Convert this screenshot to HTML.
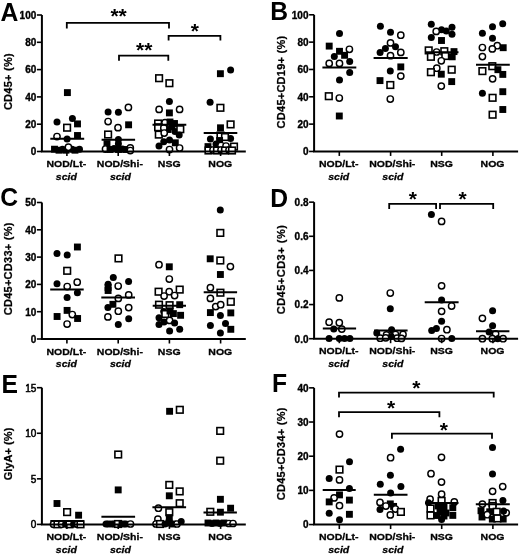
<!DOCTYPE html>
<html><head><meta charset="utf-8"><style>
html,body{margin:0;padding:0;background:#fff;}
svg{display:block;filter:blur(0.35px);}
text{font-family:"Liberation Sans", sans-serif;fill:#000;}
</style></head><body>
<svg width="520" height="555" viewBox="0 0 520 555">
<rect width="520" height="555" fill="#fff"/>
<rect x="63.95" y="89.15" width="6.9" height="6.9" fill="#000"/>
<circle cx="57" cy="121.9" r="3.5" fill="#000"/>
<circle cx="72.4" cy="118.5" r="3.5" fill="#000"/>
<rect x="74.05" y="120.45" width="6.9" height="6.9" fill="#000"/>
<rect x="63.80" y="124.40" width="6.6" height="6.6" fill="#fff" stroke="#000" stroke-width="1.6"/>
<circle cx="57" cy="136.5" r="3.15" fill="#fff" stroke="#000" stroke-width="1.45"/>
<circle cx="67.1" cy="139" r="3.5" fill="#000"/>
<rect x="74.05" y="132.05" width="6.9" height="6.9" fill="#000"/>
<rect x="51.05" y="145.75" width="6.9" height="6.9" fill="#000"/>
<rect x="55.55" y="146.75" width="6.9" height="6.9" fill="#000"/>
<circle cx="62.5" cy="149.2" r="3.5" fill="#000"/>
<rect x="62.55" y="146.75" width="6.9" height="6.9" fill="#000"/>
<circle cx="72" cy="149.2" r="3.5" fill="#000"/>
<rect x="71.55" y="146.75" width="6.9" height="6.9" fill="#000"/>
<circle cx="79.5" cy="149.2" r="3.5" fill="#000"/>
<circle cx="68.4" cy="147.2" r="3.15" fill="#fff" stroke="#000" stroke-width="1.45"/>
<circle cx="128.4" cy="107.4" r="3.15" fill="#fff" stroke="#000" stroke-width="1.45"/>
<circle cx="108.1" cy="112.1" r="3.5" fill="#000"/>
<circle cx="118.4" cy="112.3" r="3.5" fill="#000"/>
<circle cx="108.1" cy="121.5" r="3.15" fill="#fff" stroke="#000" stroke-width="1.45"/>
<rect x="125.15" y="121.35" width="6.9" height="6.9" fill="#000"/>
<circle cx="118" cy="127.7" r="3.15" fill="#fff" stroke="#000" stroke-width="1.45"/>
<rect x="104.80" y="131.20" width="6.6" height="6.6" fill="#fff" stroke="#000" stroke-width="1.6"/>
<circle cx="118.4" cy="139.4" r="3.5" fill="#000"/>
<rect x="103.55" y="140.25" width="6.9" height="6.9" fill="#000"/>
<circle cx="118.4" cy="143.7" r="3.5" fill="#000"/>
<circle cx="105.5" cy="149" r="3.15" fill="#fff" stroke="#000" stroke-width="1.45"/>
<rect x="106.55" y="146.05" width="6.9" height="6.9" fill="#000"/>
<circle cx="114" cy="148.5" r="3.5" fill="#000"/>
<rect x="115.05" y="146.05" width="6.9" height="6.9" fill="#000"/>
<circle cx="122.5" cy="149" r="3.5" fill="#000"/>
<rect x="122.55" y="146.05" width="6.9" height="6.9" fill="#000"/>
<circle cx="130.3" cy="147.9" r="3.15" fill="#fff" stroke="#000" stroke-width="1.45"/>
<circle cx="130.3" cy="150.5" r="3.15" fill="#fff" stroke="#000" stroke-width="1.45"/>
<rect x="155.80" y="74.90" width="6.6" height="6.6" fill="#fff" stroke="#000" stroke-width="1.6"/>
<rect x="166.10" y="79.90" width="6.6" height="6.6" fill="#fff" stroke="#000" stroke-width="1.6"/>
<circle cx="169.4" cy="101.6" r="3.5" fill="#000"/>
<circle cx="159.1" cy="109.4" r="3.15" fill="#fff" stroke="#000" stroke-width="1.45"/>
<circle cx="179.6" cy="109.4" r="3.15" fill="#fff" stroke="#000" stroke-width="1.45"/>
<rect x="165.95" y="109.45" width="6.9" height="6.9" fill="#000"/>
<rect x="154.80" y="120.20" width="6.6" height="6.6" fill="#fff" stroke="#000" stroke-width="1.6"/>
<rect x="154.80" y="124.00" width="6.6" height="6.6" fill="#fff" stroke="#000" stroke-width="1.6"/>
<circle cx="165" cy="122.7" r="3.15" fill="#fff" stroke="#000" stroke-width="1.45"/>
<rect x="166.55" y="118.55" width="6.9" height="6.9" fill="#000"/>
<rect x="171.05" y="120.05" width="6.9" height="6.9" fill="#000"/>
<circle cx="172" cy="127" r="3.5" fill="#000"/>
<rect x="164.55" y="126.05" width="6.9" height="6.9" fill="#000"/>
<circle cx="175" cy="131.5" r="3.5" fill="#000"/>
<circle cx="163.8" cy="128" r="3.15" fill="#fff" stroke="#000" stroke-width="1.45"/>
<rect x="177.00" y="125.90" width="6.6" height="6.6" fill="#fff" stroke="#000" stroke-width="1.6"/>
<rect x="155.50" y="131.30" width="6.6" height="6.6" fill="#fff" stroke="#000" stroke-width="1.6"/>
<circle cx="164.2" cy="133" r="3.15" fill="#fff" stroke="#000" stroke-width="1.45"/>
<circle cx="179.2" cy="135" r="3.5" fill="#000"/>
<circle cx="169.5" cy="139.9" r="3.5" fill="#000"/>
<circle cx="163.75" cy="141.8" r="3.5" fill="#000"/>
<rect x="171.85" y="139.35" width="6.9" height="6.9" fill="#000"/>
<circle cx="159" cy="146.1" r="3.5" fill="#000"/>
<circle cx="169.5" cy="149.5" r="3.15" fill="#fff" stroke="#000" stroke-width="1.45"/>
<circle cx="179.6" cy="148" r="3.15" fill="#fff" stroke="#000" stroke-width="1.45"/>
<rect x="216.95" y="70.25" width="6.9" height="6.9" fill="#000"/>
<circle cx="230.6" cy="70" r="3.5" fill="#000"/>
<circle cx="210.1" cy="102.2" r="3.5" fill="#000"/>
<rect x="217.10" y="104.50" width="6.6" height="6.6" fill="#fff" stroke="#000" stroke-width="1.6"/>
<rect x="227.30" y="121.10" width="6.6" height="6.6" fill="#fff" stroke="#000" stroke-width="1.6"/>
<rect x="217.05" y="124.35" width="6.9" height="6.9" fill="#000"/>
<circle cx="210.4" cy="139" r="3.5" fill="#000"/>
<circle cx="230.6" cy="138.5" r="3.5" fill="#000"/>
<rect x="217.20" y="132.20" width="6.6" height="6.6" fill="#fff" stroke="#000" stroke-width="1.6"/>
<rect x="221.70" y="133.70" width="6.6" height="6.6" fill="#fff" stroke="#000" stroke-width="1.6"/>
<rect x="216.15" y="137.05" width="6.9" height="6.9" fill="#000"/>
<circle cx="216" cy="144" r="3.5" fill="#000"/>
<circle cx="221" cy="145.5" r="3.15" fill="#fff" stroke="#000" stroke-width="1.45"/>
<circle cx="226" cy="146" r="3.15" fill="#fff" stroke="#000" stroke-width="1.45"/>
<rect x="204.55" y="143.15" width="6.9" height="6.9" fill="#000"/>
<rect x="230.70" y="143.30" width="6.6" height="6.6" fill="#fff" stroke="#000" stroke-width="1.6"/>
<rect x="205.20" y="147.20" width="6.6" height="6.6" fill="#fff" stroke="#000" stroke-width="1.6"/>
<circle cx="213" cy="150" r="3.15" fill="#fff" stroke="#000" stroke-width="1.45"/>
<rect x="213.70" y="147.20" width="6.6" height="6.6" fill="#fff" stroke="#000" stroke-width="1.6"/>
<circle cx="221" cy="150" r="3.15" fill="#fff" stroke="#000" stroke-width="1.45"/>
<rect x="221.70" y="147.20" width="6.6" height="6.6" fill="#fff" stroke="#000" stroke-width="1.6"/>
<circle cx="229" cy="150" r="3.15" fill="#fff" stroke="#000" stroke-width="1.45"/>
<rect x="228.70" y="147.20" width="6.6" height="6.6" fill="#fff" stroke="#000" stroke-width="1.6"/>
<line x1="50.3" y1="138.8" x2="84.2" y2="138.8" stroke="#000" stroke-width="2"/>
<line x1="101.6" y1="139.8" x2="135.1" y2="139.8" stroke="#000" stroke-width="2"/>
<line x1="152.5" y1="124.8" x2="186.3" y2="124.8" stroke="#000" stroke-width="2"/>
<line x1="203.7" y1="133.1" x2="237.3" y2="133.1" stroke="#000" stroke-width="2"/>
<line x1="41.9" y1="15.0" x2="41.9" y2="151.5" stroke="#000" stroke-width="2"/>
<line x1="40.9" y1="151.5" x2="245.8" y2="151.5" stroke="#000" stroke-width="2"/>
<line x1="36.9" y1="15.0" x2="41.9" y2="15.0" stroke="#000" stroke-width="1.6"/>
<text x="36.30" y="18.80" font-size="10" text-anchor="end" font-weight="bold" font-style="normal" stroke="#000" stroke-width="0.35">100</text>
<line x1="36.9" y1="42.3" x2="41.9" y2="42.3" stroke="#000" stroke-width="1.6"/>
<text x="36.30" y="46.10" font-size="10" text-anchor="end" font-weight="bold" font-style="normal" stroke="#000" stroke-width="0.35">80</text>
<line x1="36.9" y1="69.6" x2="41.9" y2="69.6" stroke="#000" stroke-width="1.6"/>
<text x="36.30" y="73.40" font-size="10" text-anchor="end" font-weight="bold" font-style="normal" stroke="#000" stroke-width="0.35">60</text>
<line x1="36.9" y1="96.9" x2="41.9" y2="96.9" stroke="#000" stroke-width="1.6"/>
<text x="36.30" y="100.70" font-size="10" text-anchor="end" font-weight="bold" font-style="normal" stroke="#000" stroke-width="0.35">40</text>
<line x1="36.9" y1="124.2" x2="41.9" y2="124.2" stroke="#000" stroke-width="1.6"/>
<text x="36.30" y="128.00" font-size="10" text-anchor="end" font-weight="bold" font-style="normal" stroke="#000" stroke-width="0.35">20</text>
<line x1="36.9" y1="151.5" x2="41.9" y2="151.5" stroke="#000" stroke-width="1.6"/>
<text x="36.30" y="155.30" font-size="10" text-anchor="end" font-weight="bold" font-style="normal" stroke="#000" stroke-width="0.35">0</text>
<line x1="66.9" y1="151.5" x2="66.9" y2="156.0" stroke="#000" stroke-width="1.6"/>
<line x1="118.2" y1="151.5" x2="118.2" y2="156.0" stroke="#000" stroke-width="1.6"/>
<line x1="169.4" y1="151.5" x2="169.4" y2="156.0" stroke="#000" stroke-width="1.6"/>
<line x1="220.6" y1="151.5" x2="220.6" y2="156.0" stroke="#000" stroke-width="1.6"/>
<text transform="translate(0.50,21.30) scale(0.95,1)" font-size="26" text-anchor="start" font-weight="bold" font-style="normal" >A</text>
<text x="0" y="0" font-size="11" letter-spacing="0.25" text-anchor="middle" font-weight="bold" stroke="#000" stroke-width="0.25" transform="translate(11.8,81.6) rotate(-90)">CD45+ (%)</text>
<text transform="translate(66.35,167.10) scale(1.03,0.94)" font-size="10.2" text-anchor="middle" font-weight="bold" font-style="normal" stroke="#000" stroke-width="0.3">NOD/Lt-</text>
<text transform="translate(66.30,179.60) scale(1.03,0.94)" font-size="10.2" text-anchor="middle" font-weight="bold" font-style="italic" stroke="#000" stroke-width="0.3">scid</text>
<text transform="translate(119.90,167.10) scale(1.03,0.94)" font-size="10.2" text-anchor="middle" font-weight="bold" font-style="normal" stroke="#000" stroke-width="0.3">NOD/Shi-</text>
<text transform="translate(120.40,179.60) scale(1.03,0.94)" font-size="10.2" text-anchor="middle" font-weight="bold" font-style="italic" stroke="#000" stroke-width="0.3">scid</text>
<text transform="translate(169.25,167.10) scale(1.03,0.94)" font-size="10.2" text-anchor="middle" font-weight="bold" font-style="normal" stroke="#000" stroke-width="0.3">NSG</text>
<text transform="translate(220.25,167.10) scale(1.03,0.94)" font-size="10.2" text-anchor="middle" font-weight="bold" font-style="normal" stroke="#000" stroke-width="0.3">NOG</text>
<path d="M66.8 28.5 V22.9 H169 V28.5" fill="none" stroke="#000" stroke-width="1.8"/>
<text x="118.60" y="23.40" font-size="21" text-anchor="middle" font-weight="bold" font-style="normal" >**</text>
<path d="M119 60.8 V55.7 H168.3 V60.8" fill="none" stroke="#000" stroke-width="1.8"/>
<text x="144.20" y="57.10" font-size="21" text-anchor="middle" font-weight="bold" font-style="normal" >**</text>
<path d="M168.6 40.6 V35.8 H220.4 V40.6" fill="none" stroke="#000" stroke-width="1.8"/>
<text x="194.85" y="37.55" font-size="21" text-anchor="middle" font-weight="bold" font-style="normal" >*</text>
<circle cx="339.5" cy="33.4" r="3.5" fill="#000"/>
<rect x="325.75" y="42.65" width="6.9" height="6.9" fill="#000"/>
<rect x="336.05" y="47.85" width="6.9" height="6.9" fill="#000"/>
<circle cx="349.4" cy="49.3" r="3.15" fill="#fff" stroke="#000" stroke-width="1.45"/>
<circle cx="334.3" cy="56.4" r="3.5" fill="#000"/>
<rect x="341.15" y="51.85" width="6.9" height="6.9" fill="#000"/>
<circle cx="329.2" cy="63.4" r="3.15" fill="#fff" stroke="#000" stroke-width="1.45"/>
<circle cx="339.5" cy="63.4" r="3.15" fill="#fff" stroke="#000" stroke-width="1.45"/>
<circle cx="349.7" cy="61.4" r="3.5" fill="#000"/>
<circle cx="349.7" cy="72.6" r="3.5" fill="#000"/>
<circle cx="339.5" cy="79.9" r="3.5" fill="#000"/>
<rect x="325.50" y="92.90" width="6.6" height="6.6" fill="#fff" stroke="#000" stroke-width="1.6"/>
<circle cx="339.3" cy="98" r="3.15" fill="#fff" stroke="#000" stroke-width="1.45"/>
<rect x="335.85" y="112.55" width="6.9" height="6.9" fill="#000"/>
<circle cx="380.4" cy="26.3" r="3.5" fill="#000"/>
<circle cx="390.5" cy="32.3" r="3.5" fill="#000"/>
<circle cx="400.8" cy="35.2" r="3.15" fill="#fff" stroke="#000" stroke-width="1.45"/>
<circle cx="390.5" cy="42.9" r="3.15" fill="#fff" stroke="#000" stroke-width="1.45"/>
<circle cx="385.4" cy="48.4" r="3.5" fill="#000"/>
<circle cx="395.5" cy="46.8" r="3.5" fill="#000"/>
<circle cx="380.1" cy="52.4" r="3.5" fill="#000"/>
<circle cx="400.8" cy="52.4" r="3.15" fill="#fff" stroke="#000" stroke-width="1.45"/>
<circle cx="390.5" cy="55.7" r="3.15" fill="#fff" stroke="#000" stroke-width="1.45"/>
<rect x="397.35" y="63.45" width="6.9" height="6.9" fill="#000"/>
<circle cx="390.3" cy="70.9" r="3.5" fill="#000"/>
<circle cx="400.8" cy="76.1" r="3.15" fill="#fff" stroke="#000" stroke-width="1.45"/>
<rect x="376.55" y="77.15" width="6.9" height="6.9" fill="#000"/>
<rect x="387.00" y="81.70" width="6.6" height="6.6" fill="#fff" stroke="#000" stroke-width="1.6"/>
<circle cx="390.3" cy="99" r="3.15" fill="#fff" stroke="#000" stroke-width="1.45"/>
<circle cx="431.3" cy="24.3" r="3.5" fill="#000"/>
<circle cx="441.5" cy="29.8" r="3.5" fill="#000"/>
<circle cx="446.3" cy="31" r="3.5" fill="#000"/>
<circle cx="452" cy="27.3" r="3.5" fill="#000"/>
<circle cx="452" cy="34.2" r="3.5" fill="#000"/>
<circle cx="436.2" cy="31.4" r="3.15" fill="#fff" stroke="#000" stroke-width="1.45"/>
<circle cx="431.3" cy="37.5" r="3.5" fill="#000"/>
<rect x="438.05" y="37.05" width="6.9" height="6.9" fill="#000"/>
<rect x="425.40" y="47.10" width="6.6" height="6.6" fill="#fff" stroke="#000" stroke-width="1.6"/>
<circle cx="436.6" cy="52" r="3.15" fill="#fff" stroke="#000" stroke-width="1.45"/>
<rect x="441.00" y="47.90" width="6.6" height="6.6" fill="#fff" stroke="#000" stroke-width="1.6"/>
<rect x="450.55" y="48.15" width="6.9" height="6.9" fill="#000"/>
<rect x="427.60" y="53.50" width="6.6" height="6.6" fill="#fff" stroke="#000" stroke-width="1.6"/>
<rect x="442.00" y="52.70" width="6.6" height="6.6" fill="#fff" stroke="#000" stroke-width="1.6"/>
<rect x="448.75" y="53.35" width="6.9" height="6.9" fill="#000"/>
<circle cx="441.3" cy="60.8" r="3.15" fill="#fff" stroke="#000" stroke-width="1.45"/>
<circle cx="436.8" cy="68.2" r="3.15" fill="#fff" stroke="#000" stroke-width="1.45"/>
<rect x="427.60" y="68.90" width="6.6" height="6.6" fill="#fff" stroke="#000" stroke-width="1.6"/>
<rect x="437.85" y="70.75" width="6.9" height="6.9" fill="#000"/>
<rect x="448.40" y="66.40" width="6.6" height="6.6" fill="#fff" stroke="#000" stroke-width="1.6"/>
<rect x="448.25" y="78.15" width="6.9" height="6.9" fill="#000"/>
<circle cx="441.3" cy="86.1" r="3.15" fill="#fff" stroke="#000" stroke-width="1.45"/>
<circle cx="502.7" cy="23.7" r="3.5" fill="#000"/>
<circle cx="492.5" cy="26.7" r="3.5" fill="#000"/>
<circle cx="482.4" cy="33.3" r="3.5" fill="#000"/>
<circle cx="492.5" cy="38.3" r="3.5" fill="#000"/>
<circle cx="482.4" cy="47.5" r="3.15" fill="#fff" stroke="#000" stroke-width="1.45"/>
<circle cx="497.3" cy="45.7" r="3.15" fill="#fff" stroke="#000" stroke-width="1.45"/>
<circle cx="492.3" cy="48.9" r="3.15" fill="#fff" stroke="#000" stroke-width="1.45"/>
<rect x="499.75" y="44.25" width="6.9" height="6.9" fill="#000"/>
<circle cx="482.4" cy="56.6" r="3.15" fill="#fff" stroke="#000" stroke-width="1.45"/>
<rect x="489.00" y="62.90" width="6.6" height="6.6" fill="#fff" stroke="#000" stroke-width="1.6"/>
<rect x="494.45" y="66.25" width="6.9" height="6.9" fill="#000"/>
<rect x="479.10" y="67.80" width="6.6" height="6.6" fill="#fff" stroke="#000" stroke-width="1.6"/>
<rect x="499.35" y="70.95" width="6.9" height="6.9" fill="#000"/>
<circle cx="492.6" cy="78.8" r="3.15" fill="#fff" stroke="#000" stroke-width="1.45"/>
<circle cx="482.4" cy="93.3" r="3.5" fill="#000"/>
<rect x="499.35" y="88.25" width="6.9" height="6.9" fill="#000"/>
<rect x="489.30" y="94.50" width="6.6" height="6.6" fill="#fff" stroke="#000" stroke-width="1.6"/>
<rect x="499.35" y="106.05" width="6.9" height="6.9" fill="#000"/>
<rect x="489.30" y="111.40" width="6.6" height="6.6" fill="#fff" stroke="#000" stroke-width="1.6"/>
<line x1="322.4" y1="67.5" x2="356.3" y2="67.5" stroke="#000" stroke-width="2"/>
<line x1="373.6" y1="58" x2="407.7" y2="58" stroke="#000" stroke-width="2"/>
<line x1="425" y1="52.3" x2="458.5" y2="52.3" stroke="#000" stroke-width="2"/>
<line x1="476" y1="64.8" x2="509.8" y2="64.8" stroke="#000" stroke-width="2"/>
<line x1="314.1" y1="14.8" x2="314.1" y2="151.45" stroke="#000" stroke-width="2"/>
<line x1="313.1" y1="151.45" x2="518.1" y2="151.45" stroke="#000" stroke-width="2"/>
<line x1="309.1" y1="14.800000000000011" x2="314.1" y2="14.800000000000011" stroke="#000" stroke-width="1.6"/>
<text x="308.50" y="18.60" font-size="10" text-anchor="end" font-weight="bold" font-style="normal" stroke="#000" stroke-width="0.35">100</text>
<line x1="309.1" y1="42.13000000000001" x2="314.1" y2="42.13000000000001" stroke="#000" stroke-width="1.6"/>
<text x="308.50" y="45.93" font-size="10" text-anchor="end" font-weight="bold" font-style="normal" stroke="#000" stroke-width="0.35">80</text>
<line x1="309.1" y1="69.46000000000001" x2="314.1" y2="69.46000000000001" stroke="#000" stroke-width="1.6"/>
<text x="308.50" y="73.26" font-size="10" text-anchor="end" font-weight="bold" font-style="normal" stroke="#000" stroke-width="0.35">60</text>
<line x1="309.1" y1="96.78999999999999" x2="314.1" y2="96.78999999999999" stroke="#000" stroke-width="1.6"/>
<text x="308.50" y="100.59" font-size="10" text-anchor="end" font-weight="bold" font-style="normal" stroke="#000" stroke-width="0.35">40</text>
<line x1="309.1" y1="124.11999999999999" x2="314.1" y2="124.11999999999999" stroke="#000" stroke-width="1.6"/>
<text x="308.50" y="127.92" font-size="10" text-anchor="end" font-weight="bold" font-style="normal" stroke="#000" stroke-width="0.35">20</text>
<line x1="309.1" y1="151.45" x2="314.1" y2="151.45" stroke="#000" stroke-width="1.6"/>
<text x="308.50" y="155.25" font-size="10" text-anchor="end" font-weight="bold" font-style="normal" stroke="#000" stroke-width="0.35">0</text>
<line x1="339.3" y1="151.45" x2="339.3" y2="155.95" stroke="#000" stroke-width="1.6"/>
<line x1="390.6" y1="151.45" x2="390.6" y2="155.95" stroke="#000" stroke-width="1.6"/>
<line x1="441.7" y1="151.45" x2="441.7" y2="155.95" stroke="#000" stroke-width="1.6"/>
<line x1="492.9" y1="151.45" x2="492.9" y2="155.95" stroke="#000" stroke-width="1.6"/>
<text transform="translate(270.30,19.80) scale(0.95,1)" font-size="26" text-anchor="start" font-weight="bold" font-style="normal" >B</text>
<text x="0" y="0" font-size="11" letter-spacing="0.25" text-anchor="middle" font-weight="bold" stroke="#000" stroke-width="0.25" transform="translate(284.9,82) rotate(-90)">CD45+CD19+ (%)</text>
<text transform="translate(338.75,167.05) scale(1.03,0.94)" font-size="10.2" text-anchor="middle" font-weight="bold" font-style="normal" stroke="#000" stroke-width="0.3">NOD/Lt-</text>
<text transform="translate(338.70,179.55) scale(1.03,0.94)" font-size="10.2" text-anchor="middle" font-weight="bold" font-style="italic" stroke="#000" stroke-width="0.3">scid</text>
<text transform="translate(392.30,167.05) scale(1.03,0.94)" font-size="10.2" text-anchor="middle" font-weight="bold" font-style="normal" stroke="#000" stroke-width="0.3">NOD/Shi-</text>
<text transform="translate(392.80,179.55) scale(1.03,0.94)" font-size="10.2" text-anchor="middle" font-weight="bold" font-style="italic" stroke="#000" stroke-width="0.3">scid</text>
<text transform="translate(441.55,167.05) scale(1.03,0.94)" font-size="10.2" text-anchor="middle" font-weight="bold" font-style="normal" stroke="#000" stroke-width="0.3">NSG</text>
<text transform="translate(492.55,167.05) scale(1.03,0.94)" font-size="10.2" text-anchor="middle" font-weight="bold" font-style="normal" stroke="#000" stroke-width="0.3">NOG</text>
<rect x="73.95" y="243.55" width="6.9" height="6.9" fill="#000"/>
<circle cx="57" cy="253.5" r="3.5" fill="#000"/>
<circle cx="67.2" cy="255.1" r="3.5" fill="#000"/>
<rect x="63.90" y="267.50" width="6.6" height="6.6" fill="#fff" stroke="#000" stroke-width="1.6"/>
<circle cx="57" cy="283.8" r="3.5" fill="#000"/>
<circle cx="77.2" cy="282.2" r="3.15" fill="#fff" stroke="#000" stroke-width="1.45"/>
<circle cx="67.2" cy="286.5" r="3.15" fill="#fff" stroke="#000" stroke-width="1.45"/>
<circle cx="77.4" cy="292.8" r="3.5" fill="#000"/>
<circle cx="67.1" cy="297.5" r="3.5" fill="#000"/>
<rect x="63.65" y="306.95" width="6.9" height="6.9" fill="#000"/>
<circle cx="72.3" cy="314.5" r="3.15" fill="#fff" stroke="#000" stroke-width="1.45"/>
<rect x="53.65" y="313.05" width="6.9" height="6.9" fill="#000"/>
<rect x="74.15" y="315.05" width="6.9" height="6.9" fill="#000"/>
<circle cx="67.1" cy="324" r="3.15" fill="#fff" stroke="#000" stroke-width="1.45"/>
<rect x="115.20" y="255.10" width="6.6" height="6.6" fill="#fff" stroke="#000" stroke-width="1.6"/>
<circle cx="113.3" cy="277.5" r="3.5" fill="#000"/>
<circle cx="128.6" cy="281.4" r="3.5" fill="#000"/>
<rect x="104.65" y="287.05" width="6.9" height="6.9" fill="#000"/>
<rect x="104.65" y="284.05" width="6.9" height="6.9" fill="#000"/>
<circle cx="108.1" cy="284.2" r="3.5" fill="#000"/>
<circle cx="118.2" cy="286" r="3.15" fill="#fff" stroke="#000" stroke-width="1.45"/>
<circle cx="128.7" cy="294.9" r="3.15" fill="#fff" stroke="#000" stroke-width="1.45"/>
<circle cx="118.3" cy="298.4" r="3.15" fill="#fff" stroke="#000" stroke-width="1.45"/>
<rect x="109.45" y="300.85" width="6.9" height="6.9" fill="#000"/>
<circle cx="107.9" cy="307.6" r="3.5" fill="#000"/>
<circle cx="128.7" cy="307.6" r="3.15" fill="#fff" stroke="#000" stroke-width="1.45"/>
<circle cx="118.3" cy="311.2" r="3.15" fill="#fff" stroke="#000" stroke-width="1.45"/>
<circle cx="107.9" cy="316.9" r="3.15" fill="#fff" stroke="#000" stroke-width="1.45"/>
<circle cx="128.7" cy="318.7" r="3.5" fill="#000"/>
<circle cx="118.3" cy="324.6" r="3.5" fill="#000"/>
<circle cx="159" cy="264.7" r="3.15" fill="#fff" stroke="#000" stroke-width="1.45"/>
<rect x="165.85" y="263.35" width="6.9" height="6.9" fill="#000"/>
<circle cx="169.3" cy="279" r="3.15" fill="#fff" stroke="#000" stroke-width="1.45"/>
<rect x="155.30" y="288.40" width="6.6" height="6.6" fill="#fff" stroke="#000" stroke-width="1.6"/>
<circle cx="169.2" cy="291.7" r="3.15" fill="#fff" stroke="#000" stroke-width="1.45"/>
<rect x="176.40" y="286.30" width="6.6" height="6.6" fill="#fff" stroke="#000" stroke-width="1.6"/>
<circle cx="164.1" cy="296" r="3.15" fill="#fff" stroke="#000" stroke-width="1.45"/>
<circle cx="174.6" cy="295.5" r="3.15" fill="#fff" stroke="#000" stroke-width="1.45"/>
<rect x="155.70" y="301.40" width="6.6" height="6.6" fill="#fff" stroke="#000" stroke-width="1.6"/>
<rect x="166.30" y="301.90" width="6.6" height="6.6" fill="#fff" stroke="#000" stroke-width="1.6"/>
<rect x="176.25" y="301.25" width="6.9" height="6.9" fill="#000"/>
<circle cx="163.7" cy="311.5" r="3.5" fill="#000"/>
<rect x="169.95" y="310.15" width="6.9" height="6.9" fill="#000"/>
<rect x="177.15" y="311.85" width="6.9" height="6.9" fill="#000"/>
<rect x="162.00" y="310.70" width="6.6" height="6.6" fill="#fff" stroke="#000" stroke-width="1.6"/>
<rect x="166.55" y="307.55" width="6.9" height="6.9" fill="#000"/>
<circle cx="159" cy="317.8" r="3.5" fill="#000"/>
<circle cx="164" cy="322" r="3.5" fill="#000"/>
<circle cx="169.6" cy="320.4" r="3.15" fill="#fff" stroke="#000" stroke-width="1.45"/>
<circle cx="174.6" cy="322.9" r="3.5" fill="#000"/>
<circle cx="159" cy="324.6" r="3.5" fill="#000"/>
<circle cx="169.6" cy="331" r="3.5" fill="#000"/>
<circle cx="179.7" cy="329.3" r="3.5" fill="#000"/>
<circle cx="220.3" cy="210.1" r="3.5" fill="#000"/>
<rect x="217.00" y="229.60" width="6.6" height="6.6" fill="#fff" stroke="#000" stroke-width="1.6"/>
<rect x="206.75" y="255.35" width="6.9" height="6.9" fill="#000"/>
<rect x="217.00" y="257.20" width="6.6" height="6.6" fill="#fff" stroke="#000" stroke-width="1.6"/>
<circle cx="230.4" cy="266.6" r="3.15" fill="#fff" stroke="#000" stroke-width="1.45"/>
<rect x="216.95" y="271.05" width="6.9" height="6.9" fill="#000"/>
<circle cx="210.4" cy="287.7" r="3.15" fill="#fff" stroke="#000" stroke-width="1.45"/>
<rect x="217.10" y="289.40" width="6.6" height="6.6" fill="#fff" stroke="#000" stroke-width="1.6"/>
<circle cx="210.4" cy="298.4" r="3.15" fill="#fff" stroke="#000" stroke-width="1.45"/>
<rect x="227.50" y="298.50" width="6.6" height="6.6" fill="#fff" stroke="#000" stroke-width="1.6"/>
<circle cx="215.7" cy="306.6" r="3.15" fill="#fff" stroke="#000" stroke-width="1.45"/>
<circle cx="220.7" cy="304.7" r="3.15" fill="#fff" stroke="#000" stroke-width="1.45"/>
<rect x="206.95" y="309.15" width="6.9" height="6.9" fill="#000"/>
<circle cx="220.4" cy="315.6" r="3.5" fill="#000"/>
<rect x="227.35" y="309.45" width="6.9" height="6.9" fill="#000"/>
<circle cx="210.4" cy="325.5" r="3.5" fill="#000"/>
<circle cx="225.5" cy="323.6" r="3.5" fill="#000"/>
<rect x="227.35" y="325.85" width="6.9" height="6.9" fill="#000"/>
<circle cx="220.4" cy="333" r="3.5" fill="#000"/>
<line x1="50.2" y1="289.5" x2="83.7" y2="289.5" stroke="#000" stroke-width="2"/>
<line x1="101.3" y1="297.6" x2="135" y2="297.6" stroke="#000" stroke-width="2"/>
<line x1="152.7" y1="305.8" x2="186" y2="305.8" stroke="#000" stroke-width="2"/>
<line x1="203.7" y1="292.2" x2="237.1" y2="292.2" stroke="#000" stroke-width="2"/>
<line x1="41.9" y1="202.5" x2="41.9" y2="339.0" stroke="#000" stroke-width="2"/>
<line x1="40.9" y1="339.0" x2="245.8" y2="339.0" stroke="#000" stroke-width="2"/>
<line x1="36.9" y1="202.5" x2="41.9" y2="202.5" stroke="#000" stroke-width="1.6"/>
<text x="36.30" y="206.30" font-size="10" text-anchor="end" font-weight="bold" font-style="normal" stroke="#000" stroke-width="0.35">50</text>
<line x1="36.9" y1="229.8" x2="41.9" y2="229.8" stroke="#000" stroke-width="1.6"/>
<text x="36.30" y="233.60" font-size="10" text-anchor="end" font-weight="bold" font-style="normal" stroke="#000" stroke-width="0.35">40</text>
<line x1="36.9" y1="257.1" x2="41.9" y2="257.1" stroke="#000" stroke-width="1.6"/>
<text x="36.30" y="260.90" font-size="10" text-anchor="end" font-weight="bold" font-style="normal" stroke="#000" stroke-width="0.35">30</text>
<line x1="36.9" y1="284.4" x2="41.9" y2="284.4" stroke="#000" stroke-width="1.6"/>
<text x="36.30" y="288.20" font-size="10" text-anchor="end" font-weight="bold" font-style="normal" stroke="#000" stroke-width="0.35">20</text>
<line x1="36.9" y1="311.7" x2="41.9" y2="311.7" stroke="#000" stroke-width="1.6"/>
<text x="36.30" y="315.50" font-size="10" text-anchor="end" font-weight="bold" font-style="normal" stroke="#000" stroke-width="0.35">10</text>
<line x1="36.9" y1="339.0" x2="41.9" y2="339.0" stroke="#000" stroke-width="1.6"/>
<text x="36.30" y="342.80" font-size="10" text-anchor="end" font-weight="bold" font-style="normal" stroke="#000" stroke-width="0.35">0</text>
<line x1="66.9" y1="339.0" x2="66.9" y2="343.5" stroke="#000" stroke-width="1.6"/>
<line x1="118.2" y1="339.0" x2="118.2" y2="343.5" stroke="#000" stroke-width="1.6"/>
<line x1="169.4" y1="339.0" x2="169.4" y2="343.5" stroke="#000" stroke-width="1.6"/>
<line x1="220.6" y1="339.0" x2="220.6" y2="343.5" stroke="#000" stroke-width="1.6"/>
<text transform="translate(0.20,205.80) scale(0.95,1)" font-size="26" text-anchor="start" font-weight="bold" font-style="normal" >C</text>
<text x="0" y="0" font-size="11" letter-spacing="0.25" text-anchor="middle" font-weight="bold" stroke="#000" stroke-width="0.25" transform="translate(11.8,268.8) rotate(-90)">CD45+CD33+ (%)</text>
<text transform="translate(66.35,354.60) scale(1.03,0.94)" font-size="10.2" text-anchor="middle" font-weight="bold" font-style="normal" stroke="#000" stroke-width="0.3">NOD/Lt-</text>
<text transform="translate(66.30,367.10) scale(1.03,0.94)" font-size="10.2" text-anchor="middle" font-weight="bold" font-style="italic" stroke="#000" stroke-width="0.3">scid</text>
<text transform="translate(119.90,354.60) scale(1.03,0.94)" font-size="10.2" text-anchor="middle" font-weight="bold" font-style="normal" stroke="#000" stroke-width="0.3">NOD/Shi-</text>
<text transform="translate(120.40,367.10) scale(1.03,0.94)" font-size="10.2" text-anchor="middle" font-weight="bold" font-style="italic" stroke="#000" stroke-width="0.3">scid</text>
<text transform="translate(169.25,354.60) scale(1.03,0.94)" font-size="10.2" text-anchor="middle" font-weight="bold" font-style="normal" stroke="#000" stroke-width="0.3">NSG</text>
<text transform="translate(220.25,354.60) scale(1.03,0.94)" font-size="10.2" text-anchor="middle" font-weight="bold" font-style="normal" stroke="#000" stroke-width="0.3">NOG</text>
<circle cx="339.3" cy="297.9" r="3.15" fill="#fff" stroke="#000" stroke-width="1.45"/>
<circle cx="329.1" cy="322.2" r="3.15" fill="#fff" stroke="#000" stroke-width="1.45"/>
<circle cx="339.3" cy="322.7" r="3.15" fill="#fff" stroke="#000" stroke-width="1.45"/>
<circle cx="333.8" cy="329.1" r="3.5" fill="#000"/>
<circle cx="341.8" cy="329.1" r="3.15" fill="#fff" stroke="#000" stroke-width="1.45"/>
<circle cx="329.1" cy="338.5" r="3.5" fill="#000"/>
<circle cx="339.3" cy="338.5" r="3.5" fill="#000"/>
<circle cx="344.5" cy="338.5" r="3.5" fill="#000"/>
<circle cx="349.9" cy="338.5" r="3.5" fill="#000"/>
<circle cx="390.3" cy="293" r="3.15" fill="#fff" stroke="#000" stroke-width="1.45"/>
<circle cx="390.3" cy="308.8" r="3.5" fill="#000"/>
<circle cx="391.6" cy="329.8" r="3.5" fill="#000"/>
<circle cx="376.8" cy="333" r="3.5" fill="#000"/>
<circle cx="386.5" cy="334.8" r="3.15" fill="#fff" stroke="#000" stroke-width="1.45"/>
<circle cx="395.5" cy="334.5" r="3.15" fill="#fff" stroke="#000" stroke-width="1.45"/>
<circle cx="403" cy="334.4" r="3.15" fill="#fff" stroke="#000" stroke-width="1.45"/>
<circle cx="380.2" cy="338.2" r="3.15" fill="#fff" stroke="#000" stroke-width="1.45"/>
<circle cx="385.7" cy="337.8" r="3.15" fill="#fff" stroke="#000" stroke-width="1.45"/>
<circle cx="397.1" cy="338.2" r="3.15" fill="#fff" stroke="#000" stroke-width="1.45"/>
<circle cx="401.5" cy="338.4" r="3.15" fill="#fff" stroke="#000" stroke-width="1.45"/>
<circle cx="391.3" cy="336.5" r="3.5" fill="#000"/>
<circle cx="431.4" cy="214.5" r="3.5" fill="#000"/>
<circle cx="441.6" cy="221.4" r="3.15" fill="#fff" stroke="#000" stroke-width="1.45"/>
<circle cx="441.6" cy="285.8" r="3.15" fill="#fff" stroke="#000" stroke-width="1.45"/>
<circle cx="441.6" cy="299.9" r="3.5" fill="#000"/>
<circle cx="451.6" cy="306" r="3.15" fill="#fff" stroke="#000" stroke-width="1.45"/>
<circle cx="441.6" cy="311.3" r="3.15" fill="#fff" stroke="#000" stroke-width="1.45"/>
<circle cx="441.6" cy="321.2" r="3.5" fill="#000"/>
<circle cx="436.4" cy="328.5" r="3.5" fill="#000"/>
<circle cx="431.7" cy="330.5" r="3.5" fill="#000"/>
<circle cx="446.9" cy="329.7" r="3.15" fill="#fff" stroke="#000" stroke-width="1.45"/>
<circle cx="441.6" cy="338.5" r="3.15" fill="#fff" stroke="#000" stroke-width="1.45"/>
<circle cx="451.8" cy="338.5" r="3.5" fill="#000"/>
<circle cx="492.6" cy="310.8" r="3.5" fill="#000"/>
<circle cx="482.4" cy="318.3" r="3.15" fill="#fff" stroke="#000" stroke-width="1.45"/>
<circle cx="492.6" cy="325.8" r="3.5" fill="#000"/>
<circle cx="489.1" cy="332" r="3.5" fill="#000"/>
<circle cx="495.6" cy="333.8" r="3.15" fill="#fff" stroke="#000" stroke-width="1.45"/>
<circle cx="482.4" cy="338.7" r="3.15" fill="#fff" stroke="#000" stroke-width="1.45"/>
<circle cx="492.3" cy="338.7" r="3.15" fill="#fff" stroke="#000" stroke-width="1.45"/>
<circle cx="497.7" cy="338.7" r="3.5" fill="#000"/>
<circle cx="503.1" cy="338.7" r="3.15" fill="#fff" stroke="#000" stroke-width="1.45"/>
<line x1="322.8" y1="328.4" x2="356.1" y2="328.4" stroke="#000" stroke-width="2"/>
<line x1="374" y1="330.4" x2="407.6" y2="330.4" stroke="#000" stroke-width="2"/>
<line x1="424.7" y1="302.2" x2="458.6" y2="302.2" stroke="#000" stroke-width="2"/>
<line x1="476" y1="331.2" x2="509.4" y2="331.2" stroke="#000" stroke-width="2"/>
<line x1="314.1" y1="202.15" x2="314.1" y2="338.7" stroke="#000" stroke-width="2"/>
<line x1="313.1" y1="338.7" x2="518.1" y2="338.7" stroke="#000" stroke-width="2"/>
<line x1="309.1" y1="202.15" x2="314.1" y2="202.15" stroke="#000" stroke-width="1.6"/>
<text x="308.50" y="205.95" font-size="10" text-anchor="end" font-weight="bold" font-style="normal" stroke="#000" stroke-width="0.35">0.8</text>
<line x1="309.1" y1="236.28750000000002" x2="314.1" y2="236.28750000000002" stroke="#000" stroke-width="1.6"/>
<text x="308.50" y="240.09" font-size="10" text-anchor="end" font-weight="bold" font-style="normal" stroke="#000" stroke-width="0.35">0.6</text>
<line x1="309.1" y1="270.425" x2="314.1" y2="270.425" stroke="#000" stroke-width="1.6"/>
<text x="308.50" y="274.23" font-size="10" text-anchor="end" font-weight="bold" font-style="normal" stroke="#000" stroke-width="0.35">0.4</text>
<line x1="309.1" y1="304.5625" x2="314.1" y2="304.5625" stroke="#000" stroke-width="1.6"/>
<text x="308.50" y="308.36" font-size="10" text-anchor="end" font-weight="bold" font-style="normal" stroke="#000" stroke-width="0.35">0.2</text>
<line x1="309.1" y1="338.7" x2="314.1" y2="338.7" stroke="#000" stroke-width="1.6"/>
<text x="308.50" y="342.50" font-size="10" text-anchor="end" font-weight="bold" font-style="normal" stroke="#000" stroke-width="0.35">0.0</text>
<line x1="339.3" y1="338.7" x2="339.3" y2="343.2" stroke="#000" stroke-width="1.6"/>
<line x1="390.6" y1="338.7" x2="390.6" y2="343.2" stroke="#000" stroke-width="1.6"/>
<line x1="441.7" y1="338.7" x2="441.7" y2="343.2" stroke="#000" stroke-width="1.6"/>
<line x1="492.9" y1="338.7" x2="492.9" y2="343.2" stroke="#000" stroke-width="1.6"/>
<text transform="translate(270.30,206.80) scale(0.95,1)" font-size="26" text-anchor="start" font-weight="bold" font-style="normal" >D</text>
<text x="0" y="0" font-size="11" letter-spacing="0.5" text-anchor="middle" font-weight="bold" stroke="#000" stroke-width="0.25" transform="translate(284.9,269.5) rotate(-90)">CD45+CD3+ (%)</text>
<text transform="translate(338.75,354.30) scale(1.03,0.94)" font-size="10.2" text-anchor="middle" font-weight="bold" font-style="normal" stroke="#000" stroke-width="0.3">NOD/Lt-</text>
<text transform="translate(338.70,366.80) scale(1.03,0.94)" font-size="10.2" text-anchor="middle" font-weight="bold" font-style="italic" stroke="#000" stroke-width="0.3">scid</text>
<text transform="translate(392.30,354.30) scale(1.03,0.94)" font-size="10.2" text-anchor="middle" font-weight="bold" font-style="normal" stroke="#000" stroke-width="0.3">NOD/Shi-</text>
<text transform="translate(392.80,366.80) scale(1.03,0.94)" font-size="10.2" text-anchor="middle" font-weight="bold" font-style="italic" stroke="#000" stroke-width="0.3">scid</text>
<text transform="translate(441.55,354.30) scale(1.03,0.94)" font-size="10.2" text-anchor="middle" font-weight="bold" font-style="normal" stroke="#000" stroke-width="0.3">NSG</text>
<text transform="translate(492.55,354.30) scale(1.03,0.94)" font-size="10.2" text-anchor="middle" font-weight="bold" font-style="normal" stroke="#000" stroke-width="0.3">NOG</text>
<path d="M389.2 209 V203.9 H436.1 V209" fill="none" stroke="#000" stroke-width="1.8"/>
<text x="412.75" y="205.60" font-size="21" text-anchor="middle" font-weight="bold" font-style="normal" >*</text>
<path d="M440 209 V203.9 H493.2 V209" fill="none" stroke="#000" stroke-width="1.8"/>
<text x="462.70" y="205.70" font-size="21" text-anchor="middle" font-weight="bold" font-style="normal" >*</text>
<rect x="53.55" y="500.05" width="6.9" height="6.9" fill="#000"/>
<rect x="63.80" y="508.80" width="6.6" height="6.6" fill="#fff" stroke="#000" stroke-width="1.6"/>
<rect x="75.15" y="511.75" width="6.9" height="6.9" fill="#000"/>
<circle cx="53.5" cy="524.3" r="3.15" fill="#fff" stroke="#000" stroke-width="1.45"/>
<rect x="54.20" y="521.00" width="6.6" height="6.6" fill="#fff" stroke="#000" stroke-width="1.6"/>
<circle cx="61.5" cy="524.3" r="3.15" fill="#fff" stroke="#000" stroke-width="1.45"/>
<circle cx="65.5" cy="524.3" r="3.5" fill="#000"/>
<rect x="66.20" y="521.00" width="6.6" height="6.6" fill="#fff" stroke="#000" stroke-width="1.6"/>
<circle cx="73.5" cy="524.3" r="3.5" fill="#000"/>
<circle cx="77.5" cy="524.3" r="3.15" fill="#fff" stroke="#000" stroke-width="1.45"/>
<rect x="77.20" y="521.00" width="6.6" height="6.6" fill="#fff" stroke="#000" stroke-width="1.6"/>
<rect x="114.90" y="451.20" width="6.6" height="6.6" fill="#fff" stroke="#000" stroke-width="1.6"/>
<rect x="114.75" y="486.45" width="6.9" height="6.9" fill="#000"/>
<circle cx="106" cy="524" r="3.5" fill="#000"/>
<rect x="106.55" y="520.55" width="6.9" height="6.9" fill="#000"/>
<circle cx="114" cy="524" r="3.5" fill="#000"/>
<rect x="114.70" y="520.70" width="6.6" height="6.6" fill="#fff" stroke="#000" stroke-width="1.6"/>
<rect x="118.55" y="520.55" width="6.9" height="6.9" fill="#000"/>
<circle cx="126" cy="524" r="3.5" fill="#000"/>
<circle cx="130.5" cy="524" r="3.15" fill="#fff" stroke="#000" stroke-width="1.45"/>
<rect x="166.15" y="407.85" width="6.9" height="6.9" fill="#000"/>
<rect x="176.50" y="406.50" width="6.6" height="6.6" fill="#fff" stroke="#000" stroke-width="1.6"/>
<rect x="166.00" y="481.60" width="6.6" height="6.6" fill="#fff" stroke="#000" stroke-width="1.6"/>
<rect x="176.40" y="488.10" width="6.6" height="6.6" fill="#fff" stroke="#000" stroke-width="1.6"/>
<rect x="165.85" y="492.35" width="6.9" height="6.9" fill="#000"/>
<rect x="176.40" y="499.90" width="6.6" height="6.6" fill="#fff" stroke="#000" stroke-width="1.6"/>
<circle cx="158.4" cy="508.2" r="3.15" fill="#fff" stroke="#000" stroke-width="1.45"/>
<rect x="166.00" y="508.90" width="6.6" height="6.6" fill="#fff" stroke="#000" stroke-width="1.6"/>
<rect x="165.85" y="514.15" width="6.9" height="6.9" fill="#000"/>
<circle cx="157.9" cy="519.1" r="3.15" fill="#fff" stroke="#000" stroke-width="1.45"/>
<circle cx="156" cy="524" r="3.15" fill="#fff" stroke="#000" stroke-width="1.45"/>
<rect x="156.70" y="520.70" width="6.6" height="6.6" fill="#fff" stroke="#000" stroke-width="1.6"/>
<circle cx="165" cy="524" r="3.5" fill="#000"/>
<rect x="165.55" y="519.55" width="6.9" height="6.9" fill="#000"/>
<rect x="169.55" y="520.55" width="6.9" height="6.9" fill="#000"/>
<circle cx="177" cy="524" r="3.15" fill="#fff" stroke="#000" stroke-width="1.45"/>
<circle cx="181.2" cy="521.6" r="3.5" fill="#000"/>
<rect x="216.90" y="427.60" width="6.6" height="6.6" fill="#fff" stroke="#000" stroke-width="1.6"/>
<rect x="216.90" y="457.40" width="6.6" height="6.6" fill="#fff" stroke="#000" stroke-width="1.6"/>
<rect x="216.95" y="495.85" width="6.9" height="6.9" fill="#000"/>
<rect x="227.15" y="504.75" width="6.9" height="6.9" fill="#000"/>
<rect x="207.00" y="508.50" width="6.6" height="6.6" fill="#fff" stroke="#000" stroke-width="1.6"/>
<rect x="216.95" y="508.75" width="6.9" height="6.9" fill="#000"/>
<rect x="204.55" y="519.55" width="6.9" height="6.9" fill="#000"/>
<circle cx="212" cy="523.5" r="3.5" fill="#000"/>
<rect x="212.55" y="519.55" width="6.9" height="6.9" fill="#000"/>
<circle cx="220" cy="523.5" r="3.5" fill="#000"/>
<rect x="220.55" y="519.55" width="6.9" height="6.9" fill="#000"/>
<circle cx="229" cy="523.5" r="3.15" fill="#fff" stroke="#000" stroke-width="1.45"/>
<circle cx="233" cy="523.5" r="3.15" fill="#fff" stroke="#000" stroke-width="1.45"/>
<line x1="50.3" y1="521" x2="83.9" y2="521" stroke="#000" stroke-width="2"/>
<line x1="101.4" y1="516.8" x2="135.1" y2="516.8" stroke="#000" stroke-width="2"/>
<line x1="152.4" y1="507.2" x2="186.1" y2="507.2" stroke="#000" stroke-width="2"/>
<line x1="203.5" y1="512.4" x2="236.9" y2="512.4" stroke="#000" stroke-width="2"/>
<line x1="41.9" y1="387.7" x2="41.9" y2="524.4" stroke="#000" stroke-width="2"/>
<line x1="40.9" y1="524.4" x2="245.8" y2="524.4" stroke="#000" stroke-width="2"/>
<line x1="36.9" y1="387.7" x2="41.9" y2="387.7" stroke="#000" stroke-width="1.6"/>
<text x="36.30" y="391.60" font-size="10" text-anchor="end" font-weight="normal" font-style="normal" stroke="#000" stroke-width="0.5">15</text>
<line x1="36.9" y1="433.26666666666665" x2="41.9" y2="433.26666666666665" stroke="#000" stroke-width="1.6"/>
<text x="36.30" y="437.17" font-size="10" text-anchor="end" font-weight="normal" font-style="normal" stroke="#000" stroke-width="0.5">10</text>
<line x1="36.9" y1="478.8333333333333" x2="41.9" y2="478.8333333333333" stroke="#000" stroke-width="1.6"/>
<text x="36.30" y="482.73" font-size="10" text-anchor="end" font-weight="normal" font-style="normal" stroke="#000" stroke-width="0.5">5</text>
<line x1="36.9" y1="524.4" x2="41.9" y2="524.4" stroke="#000" stroke-width="1.6"/>
<text x="36.30" y="528.30" font-size="10" text-anchor="end" font-weight="normal" font-style="normal" stroke="#000" stroke-width="0.5">0</text>
<line x1="66.9" y1="524.4" x2="66.9" y2="528.9" stroke="#000" stroke-width="1.6"/>
<line x1="118.2" y1="524.4" x2="118.2" y2="528.9" stroke="#000" stroke-width="1.6"/>
<line x1="169.4" y1="524.4" x2="169.4" y2="528.9" stroke="#000" stroke-width="1.6"/>
<line x1="220.6" y1="524.4" x2="220.6" y2="528.9" stroke="#000" stroke-width="1.6"/>
<text transform="translate(1.50,392.50) scale(0.95,1)" font-size="26" text-anchor="start" font-weight="bold" font-style="normal" >E</text>
<text x="0" y="0" font-size="11" letter-spacing="0.05" text-anchor="middle" font-weight="bold" stroke="#000" stroke-width="0.25" transform="translate(11.8,454) rotate(-90)">GlyA+ (%)</text>
<text transform="translate(66.35,540.00) scale(1.03,0.94)" font-size="10.2" text-anchor="middle" font-weight="bold" font-style="normal" stroke="#000" stroke-width="0.3">NOD/Lt-</text>
<text transform="translate(66.30,552.50) scale(1.03,0.94)" font-size="10.2" text-anchor="middle" font-weight="bold" font-style="italic" stroke="#000" stroke-width="0.3">scid</text>
<text transform="translate(119.90,540.00) scale(1.03,0.94)" font-size="10.2" text-anchor="middle" font-weight="bold" font-style="normal" stroke="#000" stroke-width="0.3">NOD/Shi-</text>
<text transform="translate(120.40,552.50) scale(1.03,0.94)" font-size="10.2" text-anchor="middle" font-weight="bold" font-style="italic" stroke="#000" stroke-width="0.3">scid</text>
<text transform="translate(169.25,540.00) scale(1.03,0.94)" font-size="10.2" text-anchor="middle" font-weight="bold" font-style="normal" stroke="#000" stroke-width="0.3">NSG</text>
<text transform="translate(220.25,540.00) scale(1.03,0.94)" font-size="10.2" text-anchor="middle" font-weight="bold" font-style="normal" stroke="#000" stroke-width="0.3">NOG</text>
<circle cx="339.5" cy="434.1" r="3.15" fill="#fff" stroke="#000" stroke-width="1.45"/>
<circle cx="349.5" cy="461.8" r="3.5" fill="#000"/>
<rect x="336.20" y="466.30" width="6.6" height="6.6" fill="#fff" stroke="#000" stroke-width="1.6"/>
<circle cx="329.2" cy="478.4" r="3.5" fill="#000"/>
<circle cx="339.5" cy="479.9" r="3.15" fill="#fff" stroke="#000" stroke-width="1.45"/>
<circle cx="349.4" cy="488.6" r="3.5" fill="#000"/>
<rect x="336.05" y="491.45" width="6.9" height="6.9" fill="#000"/>
<circle cx="334.1" cy="497.9" r="3.15" fill="#fff" stroke="#000" stroke-width="1.45"/>
<rect x="325.75" y="498.45" width="6.9" height="6.9" fill="#000"/>
<rect x="345.95" y="496.65" width="6.9" height="6.9" fill="#000"/>
<circle cx="339.5" cy="505.7" r="3.15" fill="#fff" stroke="#000" stroke-width="1.45"/>
<circle cx="329.2" cy="513.2" r="3.5" fill="#000"/>
<rect x="345.95" y="510.85" width="6.9" height="6.9" fill="#000"/>
<circle cx="339.5" cy="519.7" r="3.5" fill="#000"/>
<circle cx="400.6" cy="449.2" r="3.5" fill="#000"/>
<circle cx="390.6" cy="457.7" r="3.15" fill="#fff" stroke="#000" stroke-width="1.45"/>
<circle cx="390.4" cy="475.2" r="3.5" fill="#000"/>
<circle cx="380.3" cy="484.3" r="3.5" fill="#000"/>
<circle cx="400.9" cy="486.6" r="3.5" fill="#000"/>
<circle cx="390.6" cy="492.9" r="3.5" fill="#000"/>
<circle cx="380" cy="502.4" r="3.15" fill="#fff" stroke="#000" stroke-width="1.45"/>
<rect x="386.85" y="500.45" width="6.9" height="6.9" fill="#000"/>
<rect x="390.15" y="502.95" width="6.9" height="6.9" fill="#000"/>
<circle cx="385.9" cy="506" r="3.15" fill="#fff" stroke="#000" stroke-width="1.45"/>
<circle cx="380" cy="509.4" r="3.5" fill="#000"/>
<circle cx="395.4" cy="509" r="3.15" fill="#fff" stroke="#000" stroke-width="1.45"/>
<rect x="397.60" y="508.60" width="6.6" height="6.6" fill="#fff" stroke="#000" stroke-width="1.6"/>
<circle cx="390.3" cy="514.9" r="3.15" fill="#fff" stroke="#000" stroke-width="1.45"/>
<circle cx="441.5" cy="457.3" r="3.15" fill="#fff" stroke="#000" stroke-width="1.45"/>
<circle cx="431" cy="473.7" r="3.15" fill="#fff" stroke="#000" stroke-width="1.45"/>
<circle cx="441.5" cy="482.1" r="3.15" fill="#fff" stroke="#000" stroke-width="1.45"/>
<circle cx="441.6" cy="494.2" r="3.15" fill="#fff" stroke="#000" stroke-width="1.45"/>
<circle cx="430.1" cy="499.2" r="3.15" fill="#fff" stroke="#000" stroke-width="1.45"/>
<circle cx="454.3" cy="501.9" r="3.15" fill="#fff" stroke="#000" stroke-width="1.45"/>
<circle cx="428.5" cy="502.7" r="3.5" fill="#000"/>
<rect x="438.30" y="497.50" width="6.6" height="6.6" fill="#fff" stroke="#000" stroke-width="1.6"/>
<rect x="427.20" y="505.20" width="6.6" height="6.6" fill="#fff" stroke="#000" stroke-width="1.6"/>
<rect x="427.20" y="512.10" width="6.6" height="6.6" fill="#fff" stroke="#000" stroke-width="1.6"/>
<rect x="434.55" y="502.55" width="6.9" height="6.9" fill="#000"/>
<rect x="440.55" y="503.55" width="6.9" height="6.9" fill="#000"/>
<rect x="436.55" y="508.55" width="6.9" height="6.9" fill="#000"/>
<rect x="442.55" y="509.55" width="6.9" height="6.9" fill="#000"/>
<rect x="433.55" y="512.05" width="6.9" height="6.9" fill="#000"/>
<rect x="440.55" y="512.55" width="6.9" height="6.9" fill="#000"/>
<rect x="449.35" y="504.25" width="6.9" height="6.9" fill="#000"/>
<rect x="449.35" y="511.95" width="6.9" height="6.9" fill="#000"/>
<circle cx="441.6" cy="519.6" r="3.5" fill="#000"/>
<circle cx="492.5" cy="447.6" r="3.5" fill="#000"/>
<circle cx="492.5" cy="473.9" r="3.5" fill="#000"/>
<circle cx="502.7" cy="486.6" r="3.15" fill="#fff" stroke="#000" stroke-width="1.45"/>
<circle cx="492.6" cy="491.3" r="3.15" fill="#fff" stroke="#000" stroke-width="1.45"/>
<circle cx="502.9" cy="500.5" r="3.5" fill="#000"/>
<circle cx="482.4" cy="504.1" r="3.15" fill="#fff" stroke="#000" stroke-width="1.45"/>
<rect x="489.30" y="499.70" width="6.6" height="6.6" fill="#fff" stroke="#000" stroke-width="1.6"/>
<rect x="489.30" y="502.70" width="6.6" height="6.6" fill="#fff" stroke="#000" stroke-width="1.6"/>
<rect x="477.55" y="507.25" width="6.9" height="6.9" fill="#000"/>
<rect x="478.55" y="513.55" width="6.9" height="6.9" fill="#000"/>
<rect x="486.25" y="508.35" width="6.9" height="6.9" fill="#000"/>
<rect x="493.40" y="508.50" width="6.6" height="6.6" fill="#fff" stroke="#000" stroke-width="1.6"/>
<circle cx="506.2" cy="512.8" r="3.15" fill="#fff" stroke="#000" stroke-width="1.45"/>
<circle cx="503.6" cy="511" r="3.5" fill="#000"/>
<rect x="499.75" y="515.65" width="6.9" height="6.9" fill="#000"/>
<circle cx="487.2" cy="514.7" r="3.15" fill="#fff" stroke="#000" stroke-width="1.45"/>
<rect x="488.85" y="515.65" width="6.9" height="6.9" fill="#000"/>
<rect x="494.10" y="515.10" width="6.6" height="6.6" fill="#fff" stroke="#000" stroke-width="1.6"/>
<line x1="322.7" y1="490" x2="355.7" y2="490" stroke="#000" stroke-width="2"/>
<line x1="373.8" y1="494.8" x2="407.5" y2="494.8" stroke="#000" stroke-width="2"/>
<line x1="425" y1="503.1" x2="458.5" y2="503.1" stroke="#000" stroke-width="2"/>
<line x1="475.8" y1="504.3" x2="509.8" y2="504.3" stroke="#000" stroke-width="2"/>
<line x1="314.1" y1="387.85" x2="314.1" y2="524.55" stroke="#000" stroke-width="2"/>
<line x1="313.1" y1="524.55" x2="518.1" y2="524.55" stroke="#000" stroke-width="2"/>
<line x1="309.1" y1="387.85" x2="314.1" y2="387.85" stroke="#000" stroke-width="1.6"/>
<text x="308.50" y="391.65" font-size="10" text-anchor="end" font-weight="bold" font-style="normal" stroke="#000" stroke-width="0.35">40</text>
<line x1="309.1" y1="422.025" x2="314.1" y2="422.025" stroke="#000" stroke-width="1.6"/>
<text x="308.50" y="425.82" font-size="10" text-anchor="end" font-weight="bold" font-style="normal" stroke="#000" stroke-width="0.35">30</text>
<line x1="309.1" y1="456.2" x2="314.1" y2="456.2" stroke="#000" stroke-width="1.6"/>
<text x="308.50" y="460.00" font-size="10" text-anchor="end" font-weight="bold" font-style="normal" stroke="#000" stroke-width="0.35">20</text>
<line x1="309.1" y1="490.375" x2="314.1" y2="490.375" stroke="#000" stroke-width="1.6"/>
<text x="308.50" y="494.18" font-size="10" text-anchor="end" font-weight="bold" font-style="normal" stroke="#000" stroke-width="0.35">10</text>
<line x1="309.1" y1="524.55" x2="314.1" y2="524.55" stroke="#000" stroke-width="1.6"/>
<text x="308.50" y="528.35" font-size="10" text-anchor="end" font-weight="bold" font-style="normal" stroke="#000" stroke-width="0.35">0</text>
<line x1="339.3" y1="524.55" x2="339.3" y2="529.05" stroke="#000" stroke-width="1.6"/>
<line x1="390.6" y1="524.55" x2="390.6" y2="529.05" stroke="#000" stroke-width="1.6"/>
<line x1="441.7" y1="524.55" x2="441.7" y2="529.05" stroke="#000" stroke-width="1.6"/>
<line x1="492.9" y1="524.55" x2="492.9" y2="529.05" stroke="#000" stroke-width="1.6"/>
<text transform="translate(272.00,391.60) scale(0.95,1)" font-size="26" text-anchor="start" font-weight="bold" font-style="normal" >F</text>
<text x="0" y="0" font-size="11" letter-spacing="0.25" text-anchor="middle" font-weight="bold" stroke="#000" stroke-width="0.25" transform="translate(284.9,453.8) rotate(-90)">CD45+CD34+ (%)</text>
<text transform="translate(338.75,540.15) scale(1.03,0.94)" font-size="10.2" text-anchor="middle" font-weight="bold" font-style="normal" stroke="#000" stroke-width="0.3">NOD/Lt-</text>
<text transform="translate(338.70,552.65) scale(1.03,0.94)" font-size="10.2" text-anchor="middle" font-weight="bold" font-style="italic" stroke="#000" stroke-width="0.3">scid</text>
<text transform="translate(392.30,540.15) scale(1.03,0.94)" font-size="10.2" text-anchor="middle" font-weight="bold" font-style="normal" stroke="#000" stroke-width="0.3">NOD/Shi-</text>
<text transform="translate(392.80,552.65) scale(1.03,0.94)" font-size="10.2" text-anchor="middle" font-weight="bold" font-style="italic" stroke="#000" stroke-width="0.3">scid</text>
<text transform="translate(441.55,540.15) scale(1.03,0.94)" font-size="10.2" text-anchor="middle" font-weight="bold" font-style="normal" stroke="#000" stroke-width="0.3">NSG</text>
<text transform="translate(492.55,540.15) scale(1.03,0.94)" font-size="10.2" text-anchor="middle" font-weight="bold" font-style="normal" stroke="#000" stroke-width="0.3">NOG</text>
<path d="M339 397.6 V392.6 H493.7 V397.6" fill="none" stroke="#000" stroke-width="1.8"/>
<text x="416.30" y="394.90" font-size="21" text-anchor="middle" font-weight="bold" font-style="normal" >*</text>
<path d="M339 417.2 V412.1 H439.4 V417.2" fill="none" stroke="#000" stroke-width="1.8"/>
<text x="391.00" y="415.10" font-size="21" text-anchor="middle" font-weight="bold" font-style="normal" >*</text>
<path d="M391.9 438.8 V433.7 H492 V438.8" fill="none" stroke="#000" stroke-width="1.8"/>
<text x="443.80" y="436.90" font-size="21" text-anchor="middle" font-weight="bold" font-style="normal" >*</text>
</svg>
</body></html>
